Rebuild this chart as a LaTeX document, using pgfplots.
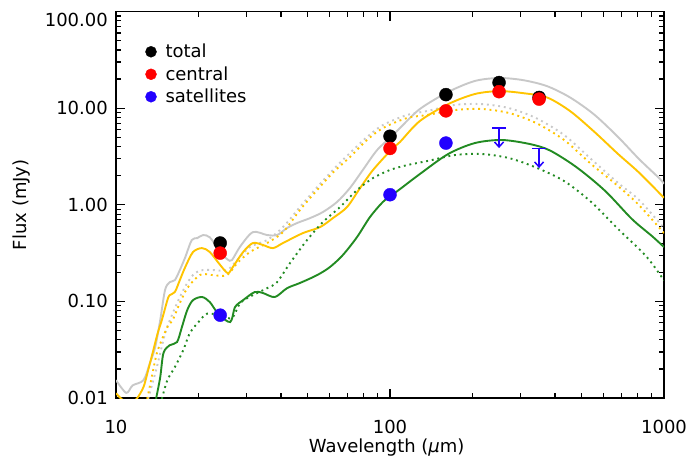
\documentclass[border=0pt]{standalone}
\usepackage{fontspec}
\setmainfont{DejaVu Sans}
\usepackage{pgfplots}
\pgfplotsset{compat=1.18}
\usetikzlibrary{arrows.meta}
\definecolor{modgray}{RGB}{200,200,200}
\definecolor{modgold}{RGB}{255,196,0}
\definecolor{modgreen}{RGB}{34,139,34}
\definecolor{satblue}{RGB}{34,0,255}

\begin{document}
\begin{tikzpicture}
\useasboundingbox (-116pt,-61pt) rectangle (571pt,398pt);
\begin{axis}[
    scale only axis,
    width=548pt, height=386.5pt,
    xmode=log, ymode=log,
    xmin=10, xmax=1000, ymin=0.01, ymax=100,
    font=\fontsize{18}{21}\selectfont,
    xtick={10,100,1000},
    xticklabels={10,100,1000},
    minor xtick={20,30,40,50,60,70,80,90,200,300,400,500,600,700,800,900},
    ytick={0.01,0.1,1,10,100},
    yticklabels={0.01,0.10,1.00,10.00,\raisebox{-8pt}{100.00}},
    minor ytick={0.02,0.03,0.04,0.05,0.06,0.07,0.08,0.09,0.2,0.3,0.4,0.5,0.6,0.7,0.8,0.9,2,3,4,5,6,7,8,9,20,30,40,50,60,70,80,90},
    axis line style={line width=1.5pt},
    tick style={line width=1.2pt, black},
    major tick length=9pt, minor tick length=5pt,
    tick align=inside,
    xticklabel style={anchor=base, inner sep=0pt, yshift=-35pt},
    yticklabel style={anchor=base east, inner sep=0pt, xshift=-8pt, yshift=-6.5pt},
    xlabel={Wavelength ({\itshape μ}m)},
    ylabel={Flux (mJy)},
    xlabel style={at={(axis description cs:0.494,-0.141)}, anchor=base, inner sep=0pt},
    ylabel style={at={(axis description cs:-0.173,0.5)}, anchor=center, rotate=0},
    legend style={draw=none, fill=none, at={(axis description cs:0.048,0.930)}, anchor=north west,
        font=\fontsize{18}{21}\selectfont, row sep=0.5pt,
        nodes={text height=12pt, text depth=0pt, inner sep=5pt},
        /tikz/every odd column/.append style={column sep=4pt}},
    legend cell align=left,
    legend image code/.code={\draw[#1, mark size=5.5pt] plot coordinates {(0pt,0pt)};},
    model/.style={line width=1.9pt, smooth, tension=0.5, forget plot},
    modeldot/.style={line width=1.9pt, smooth, tension=0.5, dash pattern=on 1.9pt off 3.8pt, forget plot},
]
% total model (solid) and its dotted counterpart
\addplot[modgray, model] coordinates {
(10,0.0153) (10.9,0.0113) (11.5,0.0135) (12.6,0.0153) (13.3,0.023) (13.9,0.0336)
(14.5,0.064) (15.1,0.131) (15.7,0.158) (16.4,0.166) (17.1,0.211) (17.9,0.287)
(18.9,0.431) (19.8,0.452) (20.8,0.486) (22.0,0.46) (23.6,0.35) (24.6,0.30)
(25.6,0.27) (26.5,0.268) (28.4,0.37) (31.6,0.521) (35.6,0.486) (38.7,0.486)
(42.1,0.574) (45.8,0.647) (51.1,0.728) (56.9,0.841) (64.1,1.07) (71.4,1.49)
(79.6,2.29) (89.7,3.68) (101.7,5.14) (108.7,6.22) (128.5,9.79) (163,14.7)
(204,19.1) (250,20.5) (305.6,19.5) (374,16.9) (454,12.9) (556,8.59) (680,5.02)
(811,2.97) (959,1.89) (1000,1.65)
};
\addplot[modgray, modeldot] coordinates {
(13.1,0.0098) (14.0,0.0194) (14.9,0.040) (15.4,0.055) (16.1,0.075) (17.1,0.111)
(18.2,0.155) (19.4,0.196) (20.8,0.211) (22.6,0.211) (25.4,0.211) (27.7,0.268)
(30.8,0.365) (35.6,0.431) (40.7,0.588) (46.9,0.947) (54.2,1.52) (61.9,2.29)
(71.4,3.43) (82.4,5.02) (94.2,6.69) (115.3,8.49) (136.5,9.33) (172.7,10.8)
(216.6,11.0) (272,10.0) (341,7.90) (432,5.27) (542,2.97) (680,1.68) (811,1.12)
(1000,0.574)
};
% central model
\addplot[modgold, modeldot] coordinates {
(13.0,0.0098) (13.5,0.0164) (14.1,0.0292) (14.9,0.044) (15.5,0.056) (16.1,0.064)
(17.1,0.0961) (18.2,0.137) (19.8,0.179) (20.8,0.192) (22.6,0.187) (25.4,0.187)
(27.7,0.249) (30.8,0.324) (35.6,0.402) (40.7,0.521) (46.9,0.881) (54.2,1.42)
(61.9,2.15) (71.4,3.12) (82.4,4.68) (94.2,6.22) (115.3,7.90) (136.5,8.49)
(172.7,9.56) (216.6,9.79) (272,8.90) (341,7.02) (432,4.68) (542,2.64) (680,1.56)
(811,0.99) (1000,0.509)
};
\addplot[modgold, model] coordinates {
(10,0.0112) (10.6,0.0095) (11.3,0.0088) (11.9,0.0098) (12.6,0.013) (13.1,0.0194)
(13.6,0.0292) (14.2,0.047) (14.7,0.064) (15.4,0.103) (15.7,0.116) (16.4,0.125)
(17.1,0.166) (17.9,0.227) (19.1,0.324) (20.6,0.356) (22.0,0.324) (24.0,0.238)
(25.6,0.196) (26.7,0.227) (29.1,0.324) (31.6,0.402) (34.4,0.383) (37.4,0.356)
(40.7,0.402) (48.1,0.509) (55.6,0.588) (61.9,0.728) (69.7,0.947) (77.8,1.49)
(86.7,2.29) (101.7,3.78) (108.7,4.46) (128.5,7.36) (163,11.0) (204,14.0)
(250,15.0) (305.6,14.3) (374,12.9) (454,9.33) (556,5.71) (680,3.35) (811,2.15)
(1000,1.18)
};
% satellites model
\addplot[modgreen, modeldot] coordinates {
(14.7,0.0098) (15.4,0.0153) (16.4,0.0209) (17.6,0.0313) (18.6,0.047) (20.3,0.0641)
(21.5,0.0746) (24.0,0.0722) (26.5,0.0672) (28.4,0.0961) (31.6,0.116) (35.6,0.137)
(38.7,0.158) (43.2,0.25) (49.8,0.431) (56.9,0.662) (65.7,0.947) (75.8,1.42)
(86.7,1.89) (100,2.29) (115.3,2.57) (136.5,2.83) (172.7,3.27) (216.6,3.35)
(272,3.04) (341,2.43) (432,1.76) (542,1.07) (680,0.561) (860,0.294) (1000,0.165)
};
\addplot[modgreen, model] coordinates {
(14.0,0.0098) (14.5,0.0164) (14.9,0.0292) (15.7,0.0352) (16.7,0.0379) (17.4,0.0542)
(18.2,0.0814) (19.1,0.103) (20.6,0.111) (22.0,0.0984) (23.6,0.0746) (26.1,0.0611)
(27.2,0.0874) (29.1,0.103) (32.1,0.125) (34.4,0.122) (38.0,0.111) (42.1,0.137)
(46.9,0.155) (54.2,0.187) (60.4,0.227) (67.3,0.302) (75.8,0.463) (84.5,0.746)
(94.2,1.07) (101.7,1.26) (108.7,1.45) (128.5,2.08) (163,3.35) (204,4.35)
(256,4.68) (324,4.25) (384,3.64) (481,2.43) (610,1.39) (764,0.711) (904,0.474)
(1000,0.365)
};
% upper limits for the satellites
\addplot[satblue, line width=1.5pt, -{Straight Barb[length=5pt,width=9pt]}, forget plot] coordinates {(250,6.22) (250,3.86)};
\addplot[satblue, line width=1.5pt, -{Straight Barb[length=5pt,width=9pt]}, forget plot] coordinates {(350,3.83) (350,2.40)};
\addplot[satblue, only marks, mark=-, mark size=7pt, mark options={line width=1.5pt}, forget plot] coordinates {(250,6.22) (350,3.83)};
% photometry
\addplot[only marks, mark=*, mark size=6.5pt, black] coordinates {
(24,0.402) (100,5.12) (160,13.8) (250,18.4) (350,12.9)
};
\addlegendentry{total}
\addplot[only marks, mark=*, mark size=6.5pt, red, mark options={fill=red, draw=red}] coordinates {
(24,0.316) (100,3.83) (160,9.37) (250,14.8) (350,12.4)
};
\addlegendentry{central}
\addplot[only marks, mark=*, mark size=6.5pt, satblue, mark options={fill=satblue, draw=satblue}] coordinates {
(24,0.072) (100,1.27) (160,4.35)
};
\addlegendentry{satellites}
\end{axis}
\end{tikzpicture}
\end{document}
